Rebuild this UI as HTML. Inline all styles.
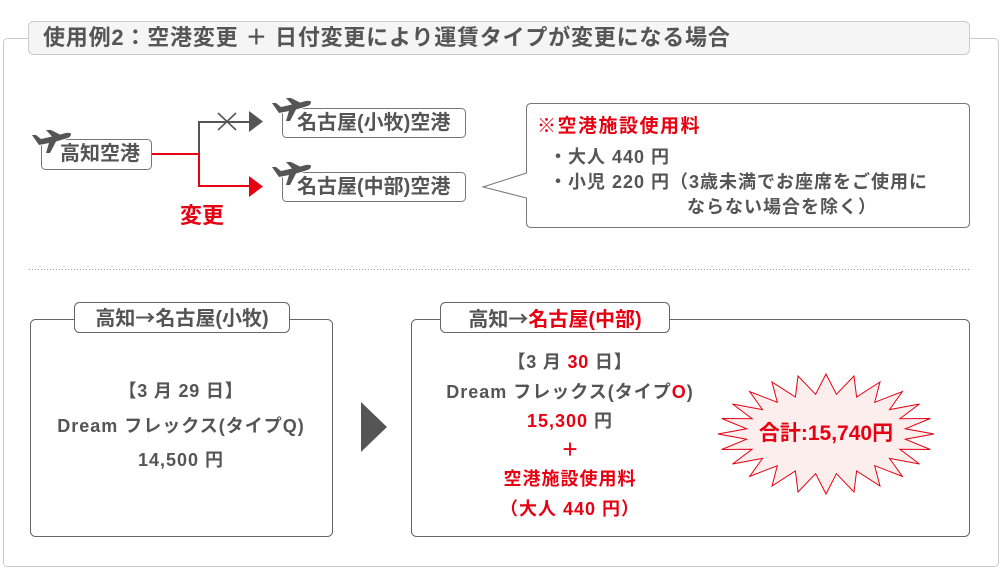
<!DOCTYPE html>
<html><head><meta charset="utf-8">
<style>
html,body{margin:0;padding:0;background:#fff;}
body{width:1000px;height:570px;position:relative;overflow:hidden;font-family:"Liberation Sans","Noto Sans CJK JP",sans-serif;color:#555;font-weight:700;}
.t{position:absolute;white-space:nowrap;}
.c{position:absolute;white-space:nowrap;text-align:center;}
.r{color:#e60012;}
.cj{font-family:"Noto Sans CJK JP",sans-serif;}
</style></head><body>
<svg width="1000" height="570" style="position:absolute;left:0;top:0">
  <defs>
    <path id="plane" d="M0,6 L4,6 L9,10 L20,7.5 L14,1 L19,1 L28,5.5 L34,4 Q39,3 39,5.5 Q39,8 34,9.5 L24,12.5 L18,24 L14,24 L17,14 L7,16 Z"/>
  </defs>
  <!-- outer frame -->
  <rect x="3.5" y="38.5" width="995" height="528" rx="4" fill="none" stroke="#ccc"/>
  <!-- title -->
  <rect x="28.5" y="21.5" width="941" height="33" rx="5" fill="#f5f5f5" stroke="#ccc"/>
  <!-- route lines -->
  <path d="M199,154 V122 H250" fill="none" stroke="#555" stroke-width="2"/>
  <path d="M151,154 H199 V186 H250" fill="none" stroke="#e60012" stroke-width="2"/>
  <polygon points="249,111 263,121.5 249,132" fill="#555"/>
  <polygon points="249,176 263,186.5 249,197" fill="#e60012"/>
  <line x1="218" y1="113" x2="236" y2="130" stroke="#555" stroke-width="1.6"/>
  <line x1="218" y1="130" x2="236" y2="113" stroke="#555" stroke-width="1.6"/>
  <!-- node boxes -->
  <rect x="41.5" y="139.5" width="110" height="30" rx="4" fill="#fff" stroke="#777"/>
  <rect x="282.5" y="108.5" width="183" height="29" rx="4" fill="#fff" stroke="#777"/>
  <rect x="282.5" y="172.5" width="183" height="29" rx="4" fill="#fff" stroke="#777"/>
  <!-- planes -->
  <g fill="#555" stroke="#fff" stroke-width="2" paint-order="stroke">
    <use href="#plane" transform="translate(32,129)"/>
    <use href="#plane" transform="translate(272,97)"/>
    <use href="#plane" transform="translate(272,161)"/>
  </g>
  <!-- speech bubble -->
  <path d="M531.5,103.5 H964.5 Q969.5,103.5 969.5,108.5 V222.5 Q969.5,227.5 964.5,227.5 H531.5 Q526.5,227.5 526.5,222.5 V198 L483,187 L526.5,173 V108.5 Q526.5,103.5 531.5,103.5 Z" fill="#fff" stroke="#777"/>
  <!-- dotted separator -->
  <line x1="29" y1="269.5" x2="971" y2="269.5" stroke="#999" stroke-dasharray="1 2"/>
  <!-- lower left box -->
  <rect x="30.5" y="319.5" width="302" height="217" rx="5" fill="#fff" stroke="#666"/>
  <rect x="74.5" y="302.5" width="215" height="30" rx="5" fill="#fff" stroke="#666"/>
  <!-- arrow -->
  <polygon points="361,402 387,427 361,452" fill="#555"/>
  <!-- lower right box -->
  <rect x="411.5" y="319.5" width="558" height="217" rx="5" fill="#fff" stroke="#666"/>
  <rect x="440.5" y="302.5" width="229" height="30" rx="5" fill="#fff" stroke="#666"/>
  <!-- starburst -->
  <polygon fill="#fdeeee" stroke="#e60012" stroke-width="1" points="934,434 905.3,439.2 930.3,449.5 899.9,449.3 919.5,464 889.5,458.4 902.4,476.4 874.7,465.7 880,486 856.6,471 854,492 836.4,473.7 826,494 815.6,473.7 798,492 795.4,471 772,486 777.3,465.7 749.6,476.4 762.5,458.4 732.5,464 752.1,449.3 721.7,449.5 746.7,439.2 718,434 746.7,428.8 721.7,418.5 752.1,418.7 732.5,404 762.5,409.6 749.6,391.6 777.3,402.3 772,382 795.4,397 798,376 815.6,394.3 826,374 836.4,394.3 854,376 856.6,397 880,382 874.7,402.3 902.4,391.6 889.5,409.6 919.5,404 899.9,418.7 930.3,418.5 905.3,428.8"/>
</svg>

<!-- title -->
<div class="t" style="left:43px;top:21px;height:34px;line-height:34px;font-size:22px;letter-spacing:0.8px;">使用例2：空港変更 ＋ 日付変更により運賃タイプが変更になる場合</div>

<!-- nodes -->
<div class="t" style="left:60px;top:139px;line-height:31px;font-size:20px;">高知空港</div>
<div class="t" style="left:297px;top:108px;line-height:30px;font-size:20px;">名古屋(小牧)空港</div>
<div class="t" style="left:297px;top:172px;line-height:30px;font-size:20px;">名古屋(中部)空港</div>
<div class="t r" style="left:180px;top:205px;line-height:22px;font-size:22px;">変更</div>

<!-- bubble text -->
<div class="t r" style="left:537px;top:115px;line-height:24px;font-size:19px;letter-spacing:1.5px;">※空港施設使用料</div>
<div class="t" style="left:549px;top:145px;line-height:24px;font-size:18px;letter-spacing:1px;">・大人 440 円</div>
<div class="t" style="left:549px;top:170px;line-height:24px;font-size:18px;letter-spacing:1px;">・小児 220 円（3歳未満でお座席をご使用に</div>
<div class="t" style="left:687px;top:195px;line-height:24px;font-size:18px;letter-spacing:1px;">ならない場合を除く）</div>

<!-- lower left -->
<div class="c" style="left:74px;width:216px;top:302px;line-height:30px;font-size:20px;">高知<span class="cj">→</span>名古屋(小牧)</div>
<div class="c" style="left:31px;width:300px;top:374px;line-height:34px;font-size:18px;letter-spacing:0.8px;">【3 月 29 日】</div>
<div class="c" style="left:31px;width:300px;top:409px;line-height:34px;font-size:18px;letter-spacing:1px;">Dream フレックス(タイプQ)</div>
<div class="c" style="left:31px;width:300px;top:443px;line-height:34px;font-size:18px;letter-spacing:1px;">14,500 円</div>

<!-- lower right -->
<div class="c" style="left:440px;width:230px;top:303px;line-height:30px;font-size:20px;">高知<span class="cj">→</span><span class="r">名古屋(中部)</span></div>
<div class="c" style="left:420px;width:300px;top:347px;line-height:30px;font-size:18px;letter-spacing:0.8px;">【3 月 <span class="r">30</span> 日】</div>
<div class="c" style="left:420px;width:300px;top:377px;line-height:30px;font-size:18px;letter-spacing:1px;">Dream フレックス(タイプ<span class="r">O</span>)</div>
<div class="c r" style="left:420px;width:300px;top:406px;line-height:30px;font-size:18px;letter-spacing:1px;">15,300 <span style="color:#555">円</span></div>
<div class="c r" style="left:420px;width:300px;top:435px;line-height:30px;font-size:18px;">＋</div>
<div class="c r" style="left:420px;width:300px;top:464px;line-height:30px;font-size:18px;letter-spacing:1px;">空港施設使用料</div>
<div class="c r" style="left:420px;width:300px;top:494px;line-height:30px;font-size:18px;letter-spacing:1px;">（大人 440 円）</div>

<div class="c r" style="left:726px;width:200px;top:420px;line-height:28px;font-size:21px;">合計:15,740円</div>
</body></html>
